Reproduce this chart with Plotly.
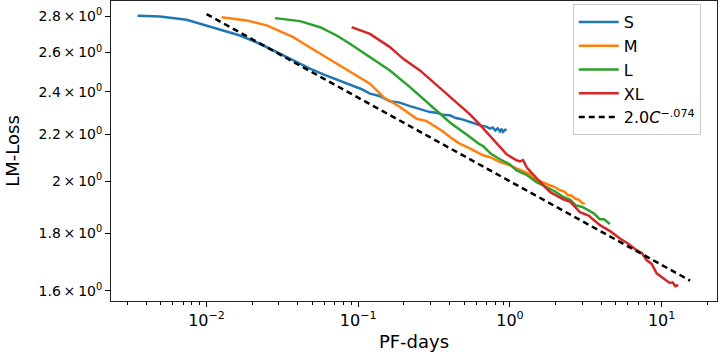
import plotly.graph_objects as go

# ---- data ----
s_x = [0.00351, 0.00493, 0.00739, 0.01002, 0.01427, 0.0166, 0.02249, 0.02898, 0.03727, 0.04804,
       0.05878, 0.06842, 0.0881, 0.1045, 0.1194, 0.138, 0.1618, 0.185, 0.2193, 0.245, 0.2971, 0.33,
       0.36, 0.4022, 0.44, 0.48, 0.545, 0.6, 0.65, 0.7, 0.738, 0.77, 0.8, 0.83, 0.86, 0.88, 0.9,
       0.93, 0.951]
s_y = [2.802, 2.798, 2.780, 2.748, 2.710, 2.692, 2.647, 2.602, 2.559, 2.516,
       2.487, 2.467, 2.432, 2.414, 2.391, 2.380, 2.354, 2.349, 2.331, 2.322, 2.303, 2.300,
       2.290, 2.288, 2.275, 2.270, 2.257, 2.250, 2.240, 2.236, 2.227, 2.232, 2.218, 2.228, 2.214,
       2.226, 2.212, 2.222, 2.219]

m_x = [0.01258, 0.01837, 0.02489, 0.0373, 0.04571, 0.05878, 0.07206, 0.0881, 0.1194, 0.1462,
       0.1884, 0.2427, 0.28, 0.312, 0.36, 0.4022, 0.46, 0.5186, 0.6672, 0.76, 0.859, 0.96, 1.107,
       1.25, 1.35, 1.425, 1.6, 1.8, 1.95, 2.137, 2.3, 2.4, 2.55, 2.7, 2.85, 3.0, 3.122]
m_y = [2.794, 2.776, 2.748, 2.683, 2.638, 2.585, 2.541, 2.498, 2.440, 2.375,
       2.327, 2.272, 2.262, 2.242, 2.215, 2.189, 2.162, 2.145, 2.109, 2.098, 2.080, 2.070, 2.052,
       2.040, 2.030, 2.011, 2.000, 1.985, 1.978, 1.964, 1.958, 1.945, 1.942, 1.930, 1.926, 1.913, 1.911]

l_x = [0.02825, 0.0413, 0.05597, 0.07206, 0.0881, 0.1194, 0.1618, 0.2193, 0.2971, 0.4022, 0.545,
       0.62, 0.6672, 0.75, 0.859, 1.0, 1.107, 1.3, 1.5, 1.8, 2.0, 2.246, 2.5, 2.7, 3.0, 3.368, 3.6,
       3.9, 4.2, 4.561]
l_y = [2.789, 2.772, 2.738, 2.692, 2.647, 2.574, 2.507, 2.423, 2.335, 2.255, 2.189,
       2.160, 2.148, 2.115, 2.092, 2.070, 2.045, 2.025, 1.996, 1.972, 1.958, 1.937, 1.926, 1.905,
       1.898, 1.882, 1.872, 1.852, 1.850, 1.833]

xl_x = [0.0904, 0.1194, 0.1618, 0.198, 0.2551, 0.3289, 0.4454, 0.545, 0.62, 0.7016, 0.951, 1.1,
        1.164, 1.22, 1.289, 1.5, 1.835, 2.246, 2.5, 2.893, 3.3, 3.92, 4.6, 5.31, 6.0, 6.84, 7.4,
        7.96, 8.6, 9.27, 10.0, 10.79, 11.3, 11.8, 12.3, 12.86]
xl_y = [2.738, 2.701, 2.629, 2.567, 2.507, 2.432, 2.350, 2.292, 2.252, 2.210, 2.113, 2.088,
        2.083, 2.088, 2.058, 2.012, 1.957, 1.928, 1.918, 1.878, 1.865, 1.829, 1.806, 1.780, 1.762,
        1.738, 1.728, 1.703, 1.690, 1.658, 1.645, 1.635, 1.626, 1.628, 1.615, 1.619]

fit_x = [0.01, 15.4]
fit_coef = 2.0
fit_exp = -0.074

y_tick_vals = [1.6, 1.8, 2.0, 2.2, 2.4, 2.6, 2.8]
y_tick_text = ["1.6\u2009×\u200910<sup>0</sup>", "1.8\u2009×\u200910<sup>0</sup>",
               "2\u2009×\u200910<sup>0</sup>", "2.2\u2009×\u200910<sup>0</sup>",
               "2.4\u2009×\u200910<sup>0</sup>", "2.6\u2009×\u200910<sup>0</sup>",
               "2.8\u2009×\u200910<sup>0</sup>"]
x_tick_vals = [0.01, 0.1, 1, 10]
x_tick_text = ["10<sup>−2</sup>", "10<sup>−1</sup>", "10<sup>0</sup>", "10<sup>1</sup>"]
x_minor = [m * 10 ** e for e in range(-3, 2) for m in range(2, 10)]

fit_y = [fit_coef * v ** fit_exp for v in fit_x]

fig = go.Figure()
series = [("S", s_x, s_y, "#1f77b4"), ("M", m_x, m_y, "#ff7f0e"),
          ("L", l_x, l_y, "#2ca02c"), ("XL", xl_x, xl_y, "#d62728")]
for name, xs, ys, c in series:
    fig.add_trace(go.Scatter(x=xs, y=ys, mode="lines", name=name,
                             line=dict(color=c, width=2.5)))
fig.add_trace(go.Scatter(x=fit_x, y=fit_y, mode="lines", name="2.0<i>C</i><sup>−.074</sup>",
                         line=dict(color="black", width=2.5, dash="6px,4px")))

font = dict(family="DejaVu Sans", size=15, color="black")
fig.update_layout(
    width=720, height=360,
    margin=dict(l=111, r=3, t=1, b=59),
    paper_bgcolor="white", plot_bgcolor="white",
    font=font,
    showlegend=True,
    legend=dict(x=0.762, y=0.99, xanchor="left", yanchor="top",
                bgcolor="white", bordercolor="#cccccc", borderwidth=1,
                font=dict(family="DejaVu Sans", size=16, color="black"),
                itemwidth=40, tracegroupgap=0),
    xaxis=dict(type="log", range=[-2.63, 1.365], showgrid=False, zeroline=False,
               showline=True, linecolor="#222222", linewidth=1, mirror=True,
               ticks="outside", ticklen=5, tickwidth=1, tickcolor="black",
               tickmode="array", tickvals=x_tick_vals, ticktext=x_tick_text,
               tickfont=dict(size=16),
               minor=dict(ticks="outside", ticklen=3, tickwidth=0.8, tickcolor="black",
                          tickmode="array", tickvals=x_minor, showgrid=False),
               title=dict(text="PF-days", standoff=6), automargin=False),
    yaxis=dict(type="log", range=[0.1951, 0.4606], showgrid=False, zeroline=False,
               showline=True, linecolor="#222222", linewidth=1, mirror=True,
               ticks="outside", ticklen=5, tickwidth=1, tickcolor="black",
               tickmode="array", tickvals=y_tick_vals, ticktext=y_tick_text,
               tickfont=dict(size=14),
               title=dict(text="LM-Loss", standoff=14), automargin=False),
)
fig.write_html("out.html", post_script="document.body.style.margin='0';",
               config={"displayModeBar": False})
